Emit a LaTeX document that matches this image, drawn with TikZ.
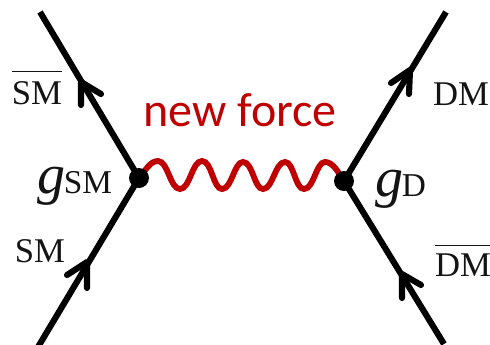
\documentclass[tikz,border=0pt]{standalone}
\usepackage{fontspec}
\setmainfont{Liberation Serif}
\newfontfamily\forcefont{Carlito}
\definecolor{forcered}{RGB}{192,0,0}
\definecolor{labelink}{RGB}{20,20,20}
\tikzset{
  fermion/.style={line width=4.6pt,black},
  barb/.style={line width=4.6pt,black,line cap=round,line join=round},
  wave/.style={line width=4.4pt,forcered,line cap=round},
  vertexdot/.style={circle,fill=black,inner sep=0pt,minimum size=15pt},
  lab/.style={inner sep=0pt,text=labelink,font=\fontsize{26}{30}\selectfont},
  barlab/.style={lab,anchor=base},
}
\begin{document}
\begin{tikzpicture}[x=0.75pt,y=-0.75pt]
\useasboundingbox (0,0) rectangle (490,344);
\coordinate (tl) at (40,12);
\coordinate (bl) at (38,347);
\coordinate (tr) at (446,12);
\coordinate (br) at (444,344);
% wave
\draw[wave] (139,178) .. controls (146,170) and (150,161) .. (158,161)
  .. controls (168,161) and (170,189) .. (180,189)
  .. controls (190,189) and (192,161) .. (202,161)
  .. controls (212,161) and (213,189) .. (222,189)
  .. controls (232,189) and (234,162) .. (243,162)
  .. controls (253,162) and (254,189) .. (263,189)
  .. controls (273,189) and (275,162) .. (285,162)
  .. controls (294,162) and (295,189) .. (304,189)
  .. controls (314,189) and (316,162) .. (325,162)
  .. controls (333,162) and (338,172) .. (344,181);
\node[vertexdot] (vl) at (139,178) {};
\node[vertexdot] (vr) at (344,181) {};
\draw[fermion] (tl) -- (vl.center);
\draw[fermion] (bl) -- (vl.center);
\draw[fermion] (tr) -- (vr.center);
\draw[fermion] (br) -- (vr.center);
% arrowheads
\draw[barb] (81,105) -- (81,82) -- (101,94);
\draw[barb] (67,275) -- (87,262) -- (87,288);
\draw[barb] (391,83) -- (410,70) -- (409,94);
\draw[barb] (402,298) -- (402,274) -- (421,285);
% labels
\node[barlab] (lsmbar) at (37,104) {$\overline{\hbox{\rule{0pt}{23pt}SM}}$};
\node[barlab] (lsm) at (40,262) {SM};
\node[barlab] (ldm) at (461,105) {DM};
\node[barlab] (ldmbar) at (463,276) {$\overline{\hbox{\rule{0pt}{22pt}DM}}$};
\node[inner sep=0pt,text=labelink,anchor=base west] (gsm) at (37,193) {\fontsize{42}{46}\selectfont\itshape g\kern-1pt\fontsize{25}{30}\selectfont\upshape SM};
\node[inner sep=0pt,text=labelink,anchor=base west] (gd) at (375,196) {\fontsize{42}{46}\selectfont\itshape g\kern-1pt\fontsize{25}{30}\selectfont\upshape D};
\node[inner sep=0pt,text=forcered,font=\forcefont\fontsize{36}{40}\selectfont] (nf) at (240,110) {new force};
\end{tikzpicture}
\end{document}
